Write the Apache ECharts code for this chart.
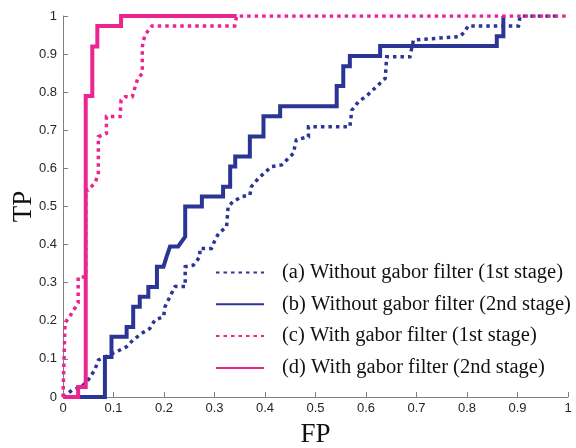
<!DOCTYPE html>
<html>
<head>
<meta charset="utf-8">
<script src="https://cdn.jsdelivr.net/npm/echarts@6/dist/echarts.min.js"></script>
<style>
  html, body { margin: 0; padding: 0; background: #fff; }
  #chart { width: 576px; height: 448px; }
</style>
</head>
<body>
<div id="chart"></div>
<script>
// ROC points [FP, TP]
const curveA = [[0,0],[0.018,0.018],[0.037,0.027],[0.05,0.045],[0.063,0.071],[0.07,0.097],[0.106,0.119],
  [0.126,0.132],[0.139,0.15],[0.156,0.167],[0.172,0.18],[0.182,0.202],[0.199,0.211],[0.202,0.237],
  [0.215,0.272],[0.222,0.29],[0.242,0.29],[0.242,0.342],[0.258,0.346],[0.271,0.368],[0.271,0.39],
  [0.294,0.39],[0.301,0.412],[0.308,0.429],[0.324,0.447],[0.327,0.5],[0.337,0.513],[0.354,0.526],
  [0.37,0.53],[0.373,0.552],[0.387,0.574],[0.413,0.605],[0.433,0.609],[0.456,0.639],[0.462,0.675],
  [0.486,0.683],[0.486,0.709],[0.568,0.709],[0.572,0.753],[0.585,0.775],[0.601,0.79],[0.621,0.815],
  [0.638,0.836],[0.641,0.893],[0.687,0.893],[0.694,0.937],[0.786,0.946],[0.796,0.959],[0.802,0.974],
  [0.902,0.974],[0.905,1],[0.98,1]];
const curveB = [[0,0],[0.083,0],[0.083,0.105],[0.096,0.105],[0.096,0.158],[0.126,0.158],[0.126,0.184],
  [0.139,0.184],[0.139,0.237],[0.152,0.237],[0.152,0.263],[0.169,0.263],[0.169,0.289],[0.186,0.289],
  [0.186,0.342],[0.199,0.342],[0.205,0.368],[0.212,0.395],[0.228,0.395],[0.242,0.421],[0.242,0.5],
  [0.275,0.5],[0.275,0.526],[0.317,0.526],[0.317,0.552],[0.331,0.552],[0.331,0.605],[0.341,0.605],
  [0.341,0.631],[0.37,0.631],[0.37,0.684],[0.397,0.684],[0.397,0.737],[0.43,0.737],[0.43,0.763],
  [0.542,0.763],[0.542,0.816],[0.555,0.816],[0.555,0.868],[0.568,0.868],[0.568,0.895],[0.628,0.895],
  [0.628,0.921],[0.859,0.921],[0.859,0.947],[0.872,0.947],[0.872,1]];
const curveC = [[0,0],[0.004,0.194],[0.018,0.221],[0.03,0.247],[0.03,0.315],[0.045,0.315],[0.045,0.543],
  [0.05,0.543],[0.063,0.562],[0.07,0.583],[0.07,0.683],[0.086,0.692],[0.086,0.736],[0.113,0.736],
  [0.115,0.779],[0.123,0.788],[0.137,0.788],[0.141,0.806],[0.148,0.836],[0.157,0.849],[0.157,0.919],
  [0.162,0.95],[0.176,0.974],[0.34,0.974],[0.344,1],[1,1]];
const curveD = [[0,0],[0.03,0],[0.03,0.026],[0.045,0.026],[0.045,0.79],[0.058,0.79],[0.058,0.92],
  [0.068,0.92],[0.068,0.974],[0.115,0.974],[0.115,1],[0.344,1]];

const names = [
  '(a) Without gabor filter (1st stage)',
  '(b) Without gabor filter (2nd stage)',
  '(c) With gabor filter (1st stage)',
  '(d) With gabor filter (2nd stage)'
];

const blue = '#2b3594';
const pink = '#ec2490';
const dots = [3.5, 4];

const chart = echarts.init(document.getElementById('chart'));

function line(name, data, color, dashed) {
  return {
    name: name,
    type: 'line',
    data: data,
    symbol: 'none',
    animation: false,
    lineStyle: { color: color, width: dashed ? 3.5 : 4, type: dashed ? dots : 'solid', cap: 'butt', join: 'miter' },
    itemStyle: { color: color }
  };
}

const axisCommon = {
  type: 'value',
  min: 0,
  max: 1,
  interval: 0.1,
  splitLine: { show: false },
  axisLine: { lineStyle: { color: '#7f7f7f', width: 1 } },
  axisTick: { inside: true, length: 5, lineStyle: { color: '#7f7f7f' } },
  axisLabel: { color: '#262626', fontSize: 13, fontFamily: 'Liberation Sans, Arial, sans-serif' },
  nameTextStyle: { color: '#111', fontSize: 27, fontFamily: 'Liberation Serif, Times New Roman, serif' }
};

chart.setOption({
  backgroundColor: '#fff',
  grid: { left: 63, right: 8, top: 16, bottom: 51, containLabel: false, outerBoundsMode: 'none' },
  xAxis: Object.assign({}, axisCommon, {
    name: 'FP', nameLocation: 'middle', nameGap: 24,
    axisLabel: Object.assign({}, axisCommon.axisLabel, { margin: 5 })
  }),
  yAxis: Object.assign({}, axisCommon, {
    name: 'TP', nameLocation: 'middle', nameGap: 26, nameMoveOverlap: false,
    axisLabel: Object.assign({}, axisCommon.axisLabel, { margin: 6 })
  }),
  legend: {
    orient: 'vertical',
    left: 215,
    top: 262,
    padding: 0,
    itemWidth: 48,
    itemHeight: 14,
    itemGap: 10.8,
    itemStyle: { opacity: 0 },
    textStyle: { color: '#111', fontSize: 20.5, fontFamily: 'Liberation Serif, Times New Roman, serif', padding: [0, 0, 0, 13] },
    data: names
  },
  series: [
    line(names[0], curveA, blue, true),
    line(names[1], curveB, blue, false),
    line(names[2], curveC, pink, true),
    line(names[3], curveD, pink, false)
  ]
});
</script>
</body>
</html>
